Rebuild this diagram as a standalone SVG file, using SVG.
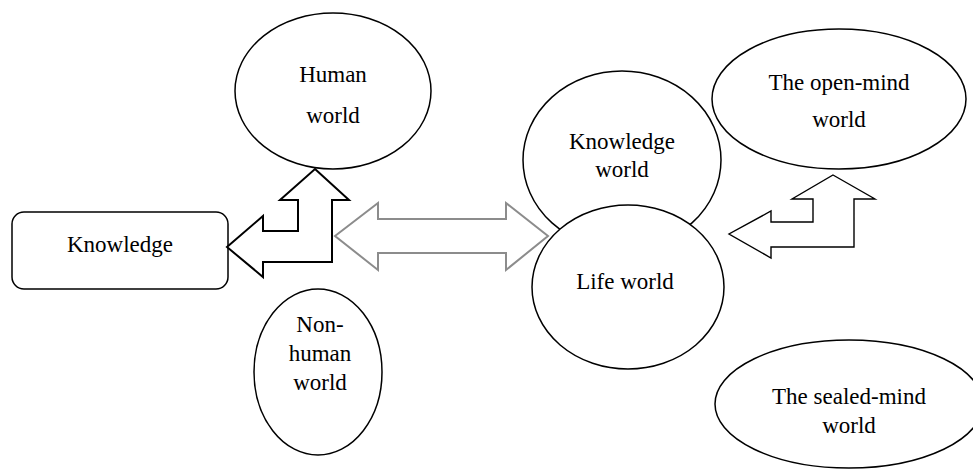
<svg xmlns="http://www.w3.org/2000/svg" width="973" height="471" viewBox="0 0 973 471">
<style>
.n{fill:#fff;stroke:#000;stroke-width:1.5}
.t{font-family:"Liberation Serif","Times New Roman",serif;font-size:23px;fill:#000;text-anchor:middle}
.a1{fill:#fff;stroke:#000;stroke-width:2;stroke-linejoin:miter}
.a2{fill:#fff;stroke:#8c8c8c;stroke-width:2}
.a3{fill:#fff;stroke:#000;stroke-width:1.4}
</style>
<rect width="973" height="471" fill="#fff"/>
<g id="human-world">
<ellipse class="n" cx="333" cy="91" rx="98" ry="78"/>
<text class="t" x="333" y="82">Human</text>
<text class="t" x="333" y="123">world</text>
</g>
<g id="non-human-world">
<ellipse class="n" cx="318" cy="372" rx="64" ry="83"/>
<text class="t" x="320" y="332">Non-</text>
<text class="t" x="320" y="361">human</text>
<text class="t" x="320" y="390">world</text>
</g>
<g id="knowledge">
<rect class="n" x="12" y="212" width="216" height="77" rx="12"/>
<text class="t" x="120" y="252">Knowledge</text>
</g>
<g id="knowledge-world">
<ellipse class="n" cx="622" cy="160" rx="99" ry="89"/>
<text class="t" x="622" y="149">Knowledge</text>
<text class="t" x="622" y="177">world</text>
</g>
<g id="life-world">
<ellipse class="n" cx="628" cy="287" rx="96" ry="82"/>
<text class="t" x="625" y="289">Life world</text>
</g>
<g id="open-mind-world">
<ellipse class="n" cx="839" cy="99" rx="127" ry="70"/>
<text class="t" x="839" y="90">The open-mind</text>
<text class="t" x="839" y="127">world</text>
</g>
<g id="sealed-mind-world">
<ellipse class="n" cx="849" cy="404" rx="134" ry="64"/>
<text class="t" x="849" y="404">The sealed-mind</text>
<text class="t" x="849" y="433">world</text>
</g>
<g id="connectors">
<polygon class="a1" points="315,169 349,200 332,200 332,262 263,262 263,277 227,247 263,216 263,231 298,231 298,200 280,200"/>
<polygon class="a2" points="335,236 378,203 378,219 506,219 506,203 548,236 506,270 506,253 378,253 378,270"/>
<polygon class="a3" points="833,175 875,199 854,199 854,247 771,247 771,258 729,234 771,211 771,222 813,222 813,199 792,199"/>
</g>
</svg>
